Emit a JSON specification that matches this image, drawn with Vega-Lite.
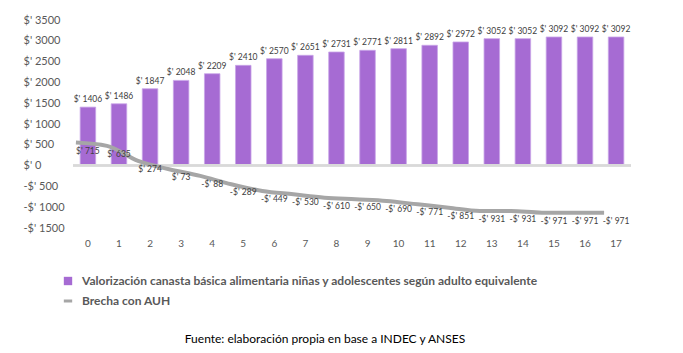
{
  "$schema": "https://vega.github.io/schema/vega-lite/v6.json",
  "width": 558,
  "height": 208,
  "autosize": {"type": "none"},
  "padding": {"left": 73, "top": 20, "right": 52, "bottom": 125},
  "background": "white",
  "config": {
    "font": "Lato",
    "view": {"stroke": null},
    "axisY": {"labelOverlap": false, "labelBound": false},
    "locale": {"number": {"decimal": ".", "thousands": "", "grouping": [3], "currency": ["$' ", ""], "minus": "-"}}
  },
  "title": {
    "text": "Fuente: elaboración propia en base a INDEC y ANSES",
    "orient": "bottom",
    "anchor": "middle",
    "fontSize": 12,
    "fontWeight": "normal",
    "color": "#000000",
    "offset": 27,
    "dx": -27
  },
  "data": {
    "values": [
      {"edad": "0", "canasta": 1406, "brecha": 715},
      {"edad": "1", "canasta": 1486, "brecha": 635},
      {"edad": "2", "canasta": 1847, "brecha": 274},
      {"edad": "3", "canasta": 2048, "brecha": 73},
      {"edad": "4", "canasta": 2209, "brecha": -88},
      {"edad": "5", "canasta": 2410, "brecha": -289},
      {"edad": "6", "canasta": 2570, "brecha": -449},
      {"edad": "7", "canasta": 2651, "brecha": -530},
      {"edad": "8", "canasta": 2731, "brecha": -610},
      {"edad": "9", "canasta": 2771, "brecha": -650},
      {"edad": "10", "canasta": 2811, "brecha": -690},
      {"edad": "11", "canasta": 2892, "brecha": -771},
      {"edad": "12", "canasta": 2972, "brecha": -851},
      {"edad": "13", "canasta": 3052, "brecha": -931},
      {"edad": "14", "canasta": 3052, "brecha": -931},
      {"edad": "15", "canasta": 3092, "brecha": -971},
      {"edad": "16", "canasta": 3092, "brecha": -971},
      {"edad": "17", "canasta": 3092, "brecha": -971}
    ]
  },
  "encoding": {
    "x": {
      "field": "edad",
      "type": "ordinal",
      "sort": null,
      "title": null,
      "scale": {"paddingInner": 0.5, "paddingOuter": 0.23},
      "axis": {"domain": false, "ticks": false, "labelAngle": 0, "labelPadding": 10, "labelFontSize": 10, "labelColor": "#595959"}
    }
  },
  "layer": [
    {
      "encoding": {
        "y": {
          "field": "canasta",
          "type": "quantitative",
          "title": null,
          "scale": {"domain": [-1500, 3500], "nice": false, "zero": false},
          "axis": {
            "values": [-1500, -1000, -500, 0, 500, 1000, 1500, 2000, 2500, 3000, 3500],
            "tickCount": 11,
            "format": "$d",
            "domain": false,
            "ticks": false,
            "tickSize": 0,
            "grid": false,
            "labelOverlap": false,
            "labelAlign": "left",
            "labelPadding": 50,
            "labelFontSize": 11,
            "labelColor": "#595959"
          }
        }
      },
      "layer": [
        {
          "mark": {"type": "bar", "stroke": "#c9a6e8", "strokeWidth": 0.8},
          "encoding": {
            "color": {
              "datum": "Valorización canasta básica alimentaria niñas y adolescentes según adulto equivalente",
              "type": "nominal",
              "scale": {
                "domain": ["Valorización canasta básica alimentaria niñas y adolescentes según adulto equivalente", "Brecha con AUH"],
                "range": ["#a66bd3", "#a6a6a6"]
              },
              "legend": {
                "title": null,
                "orient": "none",
                "legendX": -11,
                "legendY": 255,
                "direction": "vertical",
                "labelFontSize": 12,
                "labelFontWeight": "bold",
                "labelColor": "#595959",
                "labelLimit": 600,
                "rowPadding": 8,
                "symbolSize": 70,
                "labelOffset": 8,
                "encode": {
                  "symbols": {
                    "update": {
                      "shape": {"signal": "datum.value === 'Brecha con AUH' ? 'stroke' : 'square'"},
                      "fill": {"signal": "datum.value === 'Brecha con AUH' ? 'transparent' : '#a66bd3'"},
                      "stroke": {"signal": "datum.value === 'Brecha con AUH' ? '#a6a6a6' : '#a66bd3'"},
                      "strokeWidth": {"signal": "datum.value === 'Brecha con AUH' ? 3 : 0"}
                    }
                  }
                }
              }
            }
          }
        },
        {
          "mark": {"type": "rule", "color": "#d9d9d9", "strokeWidth": 1.5},
          "encoding": {"y": {"datum": 0, "type": "quantitative"}, "x": null}
        },
        {
          "mark": {"type": "text", "baseline": "bottom", "dy": -3, "fontSize": 8.5, "color": "#404040"},
          "encoding": {
            "text": {"field": "canasta", "type": "quantitative", "format": "$d"}
          }
        }
      ]
    },
    {
      "encoding": {
        "y": {
          "field": "brecha",
          "type": "quantitative",
          "scale": {"domain": [-1340, 3660], "nice": false, "zero": false},
          "axis": null
        }
      },
      "layer": [
        {
          "mark": {"type": "line", "interpolate": "monotone", "strokeWidth": 4, "xOffset": -12},
          "encoding": {
            "color": {
              "datum": "Brecha con AUH",
              "type": "nominal",
              "legend": {
                "title": null,
                "orient": "none",
                "legendX": -11,
                "legendY": 255,
                "direction": "vertical",
                "labelFontSize": 12,
                "labelFontWeight": "bold",
                "labelColor": "#595959",
                "labelLimit": 600,
                "rowPadding": 8,
                "symbolSize": 70,
                "labelOffset": 8,
                "encode": {
                  "symbols": {
                    "update": {
                      "shape": {"signal": "datum.value === 'Brecha con AUH' ? 'stroke' : 'square'"},
                      "fill": {"signal": "datum.value === 'Brecha con AUH' ? 'transparent' : '#a66bd3'"},
                      "stroke": {"signal": "datum.value === 'Brecha con AUH' ? '#a6a6a6' : '#a66bd3'"},
                      "strokeWidth": {"signal": "datum.value === 'Brecha con AUH' ? 3 : 0"}
                    }
                  }
                }
              }
            }
          }
        },
        {
          "mark": {"type": "text", "baseline": "middle", "dy": 8, "fontSize": 8.5, "color": "#404040"},
          "encoding": {
            "text": {"field": "brecha", "type": "quantitative", "format": "$d"}
          }
        }
      ]
    }
  ],
  "resolve": {"scale": {"y": "independent"}}
}
